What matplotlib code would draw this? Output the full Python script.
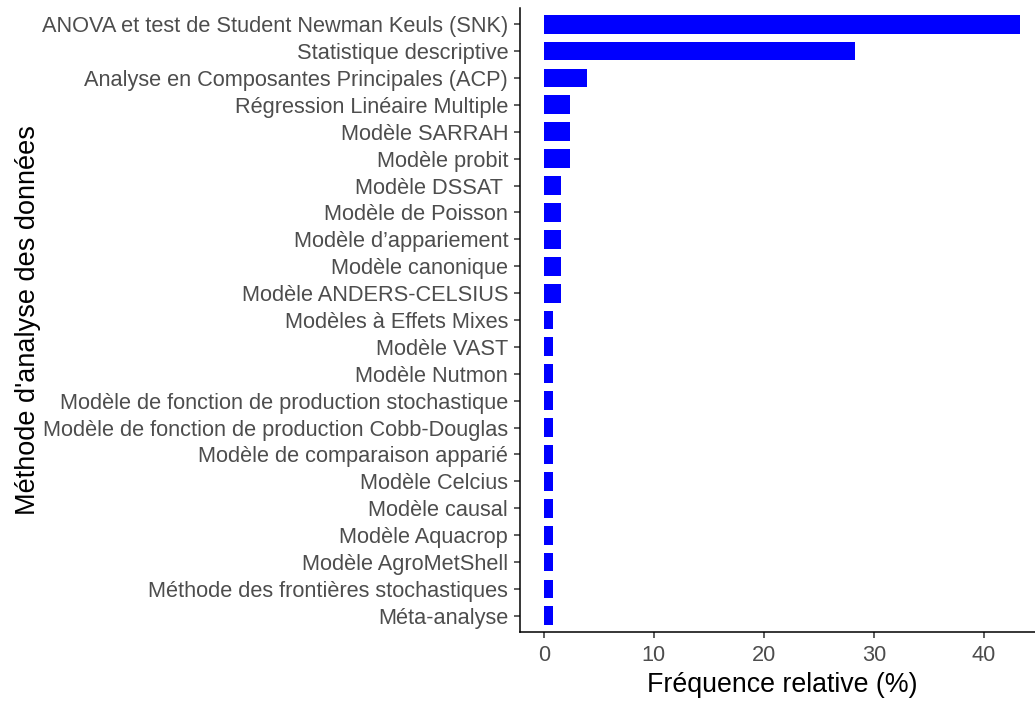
import matplotlib.pyplot as plt

plt.rcParams['font.family'] = ['Liberation Sans', 'DejaVu Sans']

# categories from top to bottom, with relative frequency (%)
methodes = [
    'ANOVA et test de Student Newman Keuls (SNK)',
    'Statistique descriptive',
    'Analyse en Composantes Principales (ACP)',
    'Régression Linéaire Multiple',
    'Modèle SARRAH',
    'Modèle probit',
    'Modèle DSSAT ',
    'Modèle de Poisson',
    'Modèle d\u2019appariement',
    'Modèle canonique',
    'Modèle ANDERS-CELSIUS',
    'Modèles à Effets Mixes',
    'Modèle VAST',
    'Modèle Nutmon',
    'Modèle de fonction de production stochastique',
    'Modèle de fonction de production Cobb-Douglas',
    'Modèle de comparaison apparié',
    'Modèle Celcius',
    'Modèle causal',
    'Modèle Aquacrop',
    'Modèle AgroMetShell',
    'Méthode des frontières stochastiques',
    'Méta-analyse',
]
frequence = [43.3, 28.3, 3.9, 2.4, 2.4, 2.4,
             1.6, 1.6, 1.6, 1.6, 1.6,
             0.8, 0.8, 0.8, 0.8, 0.8, 0.8, 0.8, 0.8, 0.8, 0.8, 0.8, 0.8]

fig = plt.figure(figsize=(10.35, 7.01), dpi=100)
ax = fig.add_axes([520 / 1035, 1 - 632 / 701, 524 / 1035, 624 / 701])

n = len(methodes)
pos = list(range(n, 0, -1))
ax.barh(pos, frequence, height=0.7, color='#0000FF')

ax.set_yticks(pos)
ax.set_yticklabels(methodes)
ax.set_ylim(0.4, n + 0.6)
xmax = max(frequence)
ax.set_xlim(-0.05 * xmax, 1.05 * xmax)
ax.set_xticks([0, 10, 20, 30, 40])

ax.tick_params(axis='both', colors='#333333', labelcolor='#4D4D4D',
               labelsize=15.7, length=4.5, width=1.1)
ax.tick_params(axis='y', pad=4)
ax.tick_params(axis='x', pad=5)
ax.spines['top'].set_visible(False)
ax.spines['right'].set_visible(False)
ax.spines['left'].set_linewidth(1.1)
ax.spines['bottom'].set_linewidth(1.1)

ax.set_xlabel('Fréquence relative (%)', fontsize=19.3, color='black', labelpad=4)
ax.set_ylabel("Méthode d'analyse des données", fontsize=19.5, color='black', labelpad=1)

fig.savefig('out.png', dpi=100)
